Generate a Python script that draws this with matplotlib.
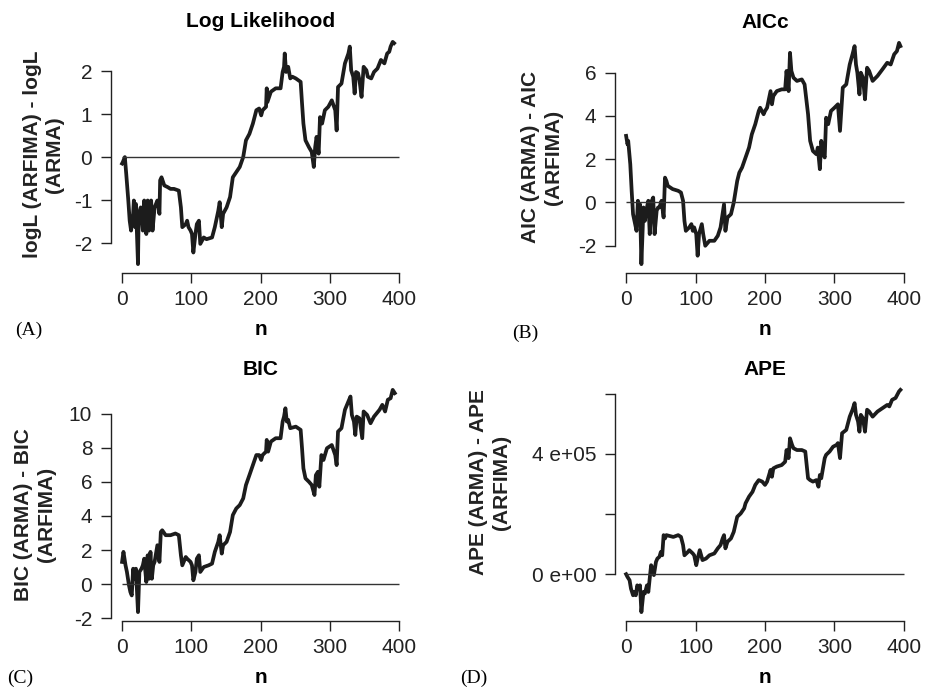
import matplotlib
matplotlib.use('Agg')
import matplotlib.pyplot as plt

plt.rcParams['font.family'] = ['Liberation Sans', 'DejaVu Sans']
plt.rcParams['axes.unicode_minus'] = False

# (A) logL(ARFIMA) - logL(ARMA)
n_a = [0, 1, 4, 6, 9, 11, 13, 16, 17, 19, 20, 23, 24, 27, 30, 32, 35, 37, 39, 42, 44,
       47, 49, 51, 54, 55, 57, 61, 66, 70, 75, 82, 85, 87, 92, 94, 96, 99, 101, 103,
       106, 108, 111, 113, 118, 122, 130, 134, 139, 141, 144, 146, 151, 156, 160,
       165, 170, 175, 179, 184, 189, 194, 198, 201, 203, 208, 209, 210, 215, 222,
       229, 232, 234, 235, 237, 240, 243, 246, 251, 258, 260, 262, 265, 270, 274,
       277, 279, 281, 284, 286, 289, 293, 298, 303, 308, 310, 312, 317, 322, 327,
       329, 331, 334, 336, 338, 341, 343, 346, 349, 353, 355, 360, 364, 369, 374,
       379, 383, 386, 388, 391, 393]
logl = [-0.15, -0.12, 0.0, -0.39, -1.01, -1.48, -1.71, -1.32, -1.01, -1.63, -1.09,
        -2.49, -1.32, -1.17, -1.71, -1.01, -1.79, -1.01, -1.71, -1.01, -1.71, -1.17,
        -1.09, -1.01, -1.32, -0.54, -0.47, -0.66, -0.70, -0.74, -0.74, -0.78, -1.17,
        -1.63, -1.56, -1.48, -1.63, -1.71, -1.79, -2.22, -1.79, -1.56, -1.48, -2.02,
        -1.87, -1.91, -1.87, -1.63, -1.25, -1.05, -1.63, -1.32, -1.17, -0.93, -0.47,
        -0.35, -0.23, 0.0, 0.39, 0.54, 0.78, 1.09, 1.13, 0.97, 1.09, 1.17, 1.60,
        1.28, 1.52, 1.60, 1.60, 1.98, 2.10, 2.41, 1.98, 2.10, 1.83, 1.87, 1.83, 1.75,
        1.25, 0.78, 0.39, 0.23, 0.12, -0.23, 0.23, 0.47, 0.08, 0.93, 0.78, 1.09,
        1.17, 1.32, 1.09, 0.62, 1.63, 1.71, 2.18, 2.41, 2.57, 2.02, 1.87, 1.48, 1.98,
        1.95, 1.79, 1.40, 2.10, 2.02, 1.87, 1.83, 1.98, 2.06, 2.26, 2.18, 2.41, 2.45,
        2.57, 2.68, 2.65]

# (B) AIC(ARMA) - AIC(ARFIMA)
n_b = [0, 2, 3, 6, 8, 10, 13, 15, 17, 18, 20, 22, 25, 27, 29, 32, 34, 37, 39, 41,
       44, 46, 48, 51, 54, 56, 58, 60, 67, 75, 79, 82, 84, 86, 91, 94, 96, 98, 101,
       103, 105, 109, 111, 114, 120, 127, 132, 136, 141, 143, 146, 151, 155, 160,
       163, 167, 172, 177, 181, 186, 191, 193, 198, 200, 203, 208, 210, 212, 217,
       224, 229, 231, 234, 236, 238, 241, 246, 253, 257, 262, 265, 269, 274, 276,
       279, 281, 284, 286, 288, 291, 295, 300, 305, 308, 312, 317, 322, 326, 329,
       331, 333, 336, 338, 341, 344, 347, 350, 355, 362, 369, 376, 381, 386, 390,
       393, 395]
aicc = [3.08, 2.69, 2.85, 1.77, 0.54, -0.54, -1.00, -1.31, 0.08, -0.54, -0.08,
        -2.85, -0.23, -0.85, -0.38, 0.08, -1.46, 0.08, 0.23, -1.46, -0.38, -0.23,
        -0.23, 0.08, -0.69, 1.15, 1.00, 0.77, 0.62, 0.54, 0.46, 0.08, -0.85, -1.31,
        -1.15, -1.00, -1.31, -1.15, -1.46, -2.46, -1.46, -1.00, -1.46, -2.00, -1.77,
        -1.77, -1.54, -1.15, -0.08, -1.31, -0.69, -0.54, 0.00, 1.00, 1.38, 1.62,
        2.08, 2.54, 3.15, 3.62, 4.23, 4.38, 4.08, 4.23, 4.38, 5.15, 4.54, 4.92,
        5.15, 5.23, 5.23, 6.08, 5.15, 6.92, 6.08, 5.77, 5.62, 5.69, 5.46, 4.08,
        2.85, 2.38, 2.23, 2.54, 1.54, 2.85, 2.23, 2.08, 3.92, 3.62, 4.23, 4.38,
        4.54, 3.31, 5.31, 5.46, 6.38, 6.85, 7.23, 6.38, 6.00, 5.00, 6.00, 5.77,
        4.77, 6.23, 6.08, 5.62, 5.85, 6.15, 6.46, 6.38, 6.85, 7.00, 7.38, 7.23]

# (C) BIC(ARMA) - BIC(ARFIMA)
n_c = [0, 2, 5, 7, 10, 12, 14, 16, 18, 20, 23, 25, 28, 30, 32, 35, 37, 39, 41, 43,
       45, 47, 51, 54, 56, 58, 63, 70, 77, 82, 85, 87, 92, 94, 99, 101, 103, 106,
       108, 111, 113, 118, 125, 130, 134, 139, 141, 144, 146, 151, 156, 160, 165,
       170, 175, 179, 184, 189, 194, 198, 201, 203, 208, 209, 211, 215, 222, 229,
       232, 234, 236, 238, 240, 243, 251, 258, 260, 262, 265, 270, 274, 278, 280,
       283, 285, 288, 291, 296, 303, 308, 310, 312, 317, 322, 327, 330, 332, 335,
       337, 339, 343, 347, 349, 354, 359, 364, 372, 376, 380, 384, 388, 391, 394]
bic = [1.30, 1.89, 1.10, 0.71, -0.08, -0.47, -0.67, 0.90, 0.31, 0.90, -1.65, 0.71,
       0.90, 1.10, 1.49, 0.12, 1.69, 0.31, 1.89, 0.31, 1.10, 1.30, 2.28, 1.30, 3.06,
       3.16, 2.87, 2.87, 2.97, 2.87, 1.69, 1.10, 1.59, 1.49, 1.30, 1.10, 0.22, 0.71,
       1.49, 1.69, 0.71, 1.00, 1.10, 1.20, 1.89, 2.48, 2.87, 1.79, 2.28, 2.48, 3.06,
       4.05, 4.44, 4.64, 5.03, 5.82, 6.40, 6.99, 7.58, 7.58, 7.29, 7.58, 7.78, 8.47,
       7.78, 8.37, 8.57, 8.57, 9.55, 9.84, 10.33, 9.55, 9.65, 9.16, 9.25, 9.06,
       7.98, 6.80, 6.21, 6.01, 5.82, 5.23, 6.40, 6.60, 5.72, 7.58, 7.29, 7.98, 8.17,
       7.58, 6.99, 8.96, 9.16, 10.24, 10.73, 11.02, 9.94, 9.55, 8.76, 9.84, 9.74,
       8.57, 10.14, 9.94, 9.45, 9.84, 10.24, 10.53, 10.14, 10.83, 10.92, 11.41,
       11.22]

# (D) APE(ARMA) - APE(ARFIMA), in units of 1e5
n_d = [0, 2, 5, 7, 10, 12, 14, 16, 19, 20, 22, 25, 27, 30, 32, 34, 36, 38, 40, 43,
       45, 48, 50, 52, 54, 56, 58, 68, 75, 79, 82, 84, 89, 91, 96, 98, 101, 103,
       106, 110, 115, 120, 127, 132, 136, 139, 141, 143, 146, 151, 155, 160, 165,
       170, 172, 177, 182, 186, 191, 196, 200, 203, 208, 210, 212, 217, 224, 229,
       231, 234, 236, 239, 241, 246, 253, 258, 262, 265, 269, 274, 277, 279, 281,
       286, 288, 293, 298, 303, 305, 308, 311, 317, 322, 326, 329, 331, 334, 336,
       338, 341, 344, 347, 350, 355, 362, 369, 376, 379, 383, 388, 393, 395]
ape = [0.00, -0.09, -0.20, -0.48, -0.70, -0.59, -0.70, -0.37, -0.48, -0.37, -1.26,
       -0.59, -0.64, -0.37, -0.59, -0.14, 0.30, 0.19, -0.03, 0.41, 0.52, 0.58,
       0.74, 0.63, 1.30, 1.19, 1.30, 1.24, 1.30, 1.24, 0.97, 0.63, 0.74, 0.80,
       0.69, 0.63, 0.30, 0.52, 0.80, 0.47, 0.52, 0.63, 0.69, 0.86, 0.97, 1.19,
       1.30, 0.86, 1.08, 1.19, 1.41, 1.91, 2.02, 2.19, 2.36, 2.58, 2.74, 2.97,
       3.13, 3.08, 2.97, 3.08, 3.47, 3.24, 3.52, 3.58, 3.63, 3.74, 4.13, 3.86,
       4.52, 4.30, 4.19, 4.13, 4.13, 4.08, 3.19, 3.13, 3.08, 3.13, 2.91, 3.30,
       3.19, 3.86, 3.97, 4.08, 4.24, 4.30, 4.36, 3.86, 4.69, 4.80, 5.24, 5.47,
       5.69, 5.30, 5.08, 4.74, 5.30, 5.19, 4.74, 5.47, 5.41, 5.24, 5.41, 5.52,
       5.63, 5.58, 5.80, 5.86, 6.08, 6.13]
ape = [v * 1e5 for v in ape]

titles = ['Log Likelihood', 'AICc', 'BIC', 'APE']
ylabels = ['logL (ARFIMA) - logL\n(ARMA)', 'AIC (ARMA) - AIC\n(ARFIMA)',
           'BIC (ARMA) - BIC\n(ARFIMA)', 'APE (ARMA) - APE\n(ARFIMA)']
letters = ['(A)', '(B)', '(C)', '(D)']
yticks = [[-2, -1, 0, 1, 2], [-2, 0, 2, 4, 6], [-2, 0, 2, 4, 6, 8, 10],
          [0, 2e5, 4e5, 6e5]]
yticklabels = [None, None, None, ['0 e+00', '', '4 e+05', '']]
xticks = [0, 100, 200, 300, 400]
series = [(n_a, logl), (n_b, aicc), (n_c, bic), (n_d, ape)]

W, H = 925, 690
fig = plt.figure(figsize=(W / 100, H / 100), dpi=100)

# axes boxes in pixels: left, top, right, bottom
boxes = [(111, 33, 410, 273), (615, 34, 915, 273),
         (111, 381, 410, 621), (615, 381, 915, 621)]
ylab_pos = [(-0.226, 0.494), (-0.244, 0.485), (-0.253, 0.442), (-0.417, 0.579)]
letter_pos = [(15, 330), (512, 333), (7, 678), (460, 678)]

fs = 15
for i in range(4):
    l, t, r, b = boxes[i]
    ax = fig.add_axes([l / W, 1 - b / H, (r - l) / W, (b - t) / H])
    x, y = series[i]
    ax.plot(x, y, color='#1c1c1c', lw=2.7, solid_joinstyle='round')
    ax.margins(x=0.04, y=0.04)
    ax.hlines(0, 0, 400, color='#333333', lw=1.0)

    ax.set_xticks(xticks)
    ax.set_yticks(yticks[i])
    if yticklabels[i] is not None:
        ax.set_yticklabels(yticklabels[i])
    ax.spines['top'].set_visible(False)
    ax.spines['right'].set_visible(False)
    ax.spines['bottom'].set_bounds(0, 400)
    ax.spines['left'].set_bounds(yticks[i][0], yticks[i][-1])
    for s in ('bottom', 'left'):
        ax.spines[s].set_linewidth(1.0)
        ax.spines[s].set_color('#222222')
    ax.tick_params(direction='out', length=7, width=1.0, colors='#222222',
                   labelsize=fs)
    ax.tick_params(axis='x', pad=5.5)
    ax.tick_params(axis='y', pad=6.5)

    ax.set_title(titles[i], fontsize=fs, fontweight='bold', pad=4)
    ax.set_xlabel('n', fontsize=fs, fontweight='bold', labelpad=8)
    ax.text(ylab_pos[i][0], ylab_pos[i][1], ylabels[i], transform=ax.transAxes,
            rotation=90, ha='center', va='center', fontsize=fs,
            fontweight='bold', linespacing=1.25, color='#222222')

    fig.text(letter_pos[i][0] / W, 1 - letter_pos[i][1] / H, letters[i],
             family='Liberation Serif', fontsize=14, ha='left', va='center')

fig.savefig('out.png', dpi=100)
